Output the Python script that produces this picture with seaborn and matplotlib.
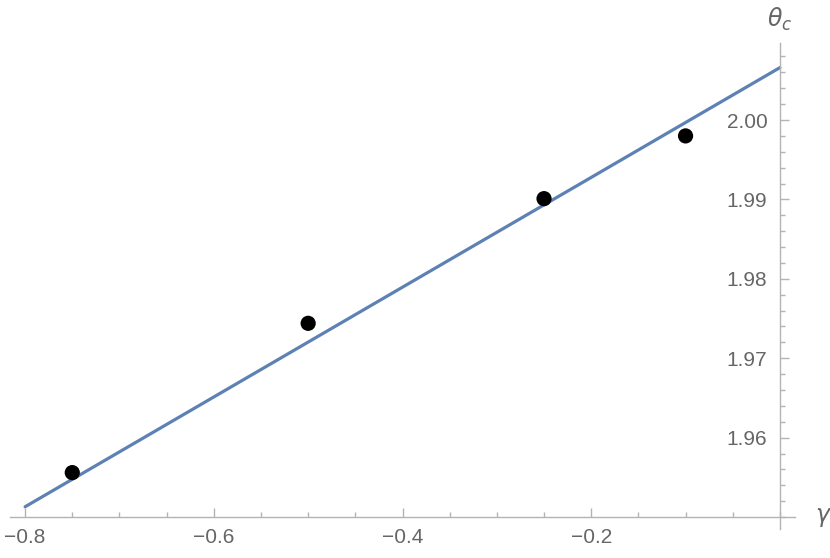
import matplotlib
matplotlib.use('Agg')
import matplotlib.pyplot as plt
import seaborn as sns
import pandas as pd
import numpy as np
from matplotlib.ticker import MultipleLocator, FuncFormatter

# data
gamma = [-0.75, -0.5, -0.25, -0.1]
theta_c = [1.9556, 1.9744, 1.9901, 1.9980]

# fitted straight line (end points)
fit_gamma = [-0.8, 0.0]
fit_theta = [1.9513, 2.0066]

x_ticks = [-0.8, -0.6, -0.4, -0.2]
y_ticks = [1.96, 1.97, 1.98, 1.99, 2.00]

pts = pd.DataFrame({'gamma': gamma, 'theta_c': theta_c})
fit = pd.DataFrame({'gamma': fit_gamma, 'theta_c': fit_theta})

sns.set_style('white')
plt.rcParams['font.family'] = ['Liberation Sans', 'DejaVu Sans']
plt.rcParams['mathtext.fontset'] = 'dejavusans'

W, H = 830, 558
fig = plt.figure(figsize=(W / 100, H / 100), dpi=100)

# axes box in pixels (left, top, right, bottom)
x0, y0, x1, y1 = 10, 43, 795, 529
ax = fig.add_axes([x0 / W, 1 - y1 / H, (x1 - x0) / W, (y1 - y0) / H])

axis_col = '#b3b3b3'
text_col = '#666666'

sns.lineplot(data=fit, x='gamma', y='theta_c', color='#5e81b5', linewidth=2.3, ax=ax)
sns.scatterplot(data=pts, x='gamma', y='theta_c', color='black', s=120,
                edgecolor='none', zorder=5, ax=ax)

ax.set_xlim(-0.816, 0.016)
ax.set_ylim(1.9485, 2.0097)

for s in ['top', 'right']:
    ax.spines[s].set_visible(False)
ax.spines['left'].set_position(('data', 0))
ax.spines['bottom'].set_position(('data', 1.95))
for s in ['left', 'bottom']:
    ax.spines[s].set_color(axis_col)
    ax.spines[s].set_linewidth(1.0)

ax.set_xticks(x_ticks)
ax.set_yticks(y_ticks)
ax.xaxis.set_minor_locator(MultipleLocator(0.05))
ax.yaxis.set_minor_locator(MultipleLocator(0.002))
ax.xaxis.set_major_formatter(FuncFormatter(lambda v, p: f'{v:.1f}'.replace('-', '\u2212')))
ax.yaxis.set_major_formatter(FuncFormatter(lambda v, p: f'{v:.2f}'))

ax.tick_params(which='both', direction='in', color=axis_col, width=1.0,
               bottom=True, left=True, top=False, right=False,
               labelcolor=text_col, labelsize=15)
ax.tick_params(which='major', length=6.5)
ax.tick_params(which='minor', length=3.5)
ax.tick_params(axis='x', which='major', pad=8)
ax.tick_params(axis='y', which='major', pad=9)

ax.set_xlabel('')
ax.set_ylabel('')

# axis labels at the ends of the axes
ax.text(0.0, 1.02, r'$\theta_c$', transform=ax.get_xaxis_transform(),
        ha='center', va='bottom', fontsize=17, color=text_col)
ax.text(1.025, 1.95, r'$\gamma$', transform=ax.get_yaxis_transform(),
        ha='left', va='center', fontsize=17, color=text_col)

fig.savefig('out.png', dpi=100)
